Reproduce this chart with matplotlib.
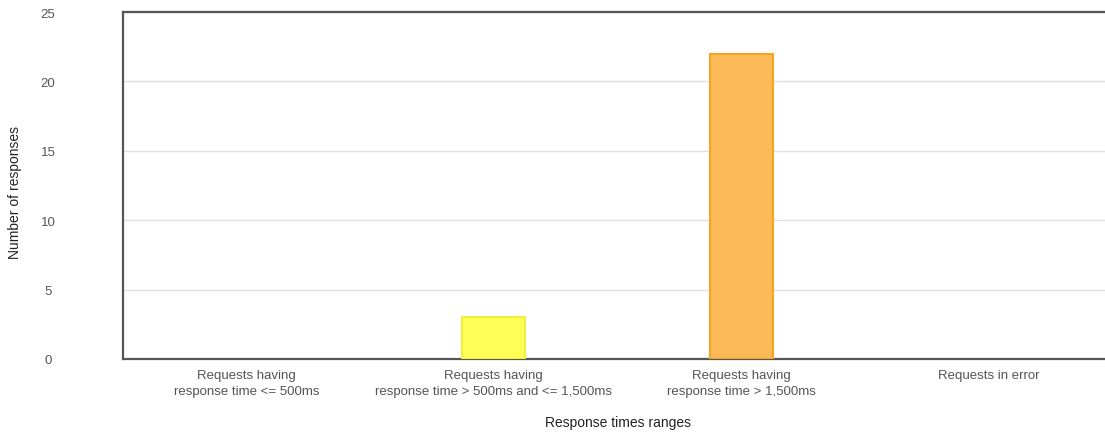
import matplotlib
matplotlib.use("Agg")
import matplotlib.pyplot as plt

CATEGORIES = ["Requests having\nresponse time <= 500ms",
              "Requests having\nresponse time > 500ms and <= 1,500ms",
              "Requests having\nresponse time > 1,500ms",
              "Requests in error"]
COUNTS = [0, 3, 22, 0]
FILLS = ["#ffff66", "#ffff55", "#fbb957", "#ff6666"]
EDGES = ["#eaea40", "#f0f03c", "#f5a51f", "#e04040"]

TXT = "#555555"
AX = "#555555"

plt.rcParams.update({"font.family": ["Liberation Sans", "DejaVu Sans"],
                     "text.color": TXT})

fig = plt.figure(figsize=(11.05, 4.35), dpi=100)
# axes run a little past the right edge of the image, like the original
ax = fig.add_axes([123 / 1105, 75 / 435, 989 / 1105, 347 / 435])

x = range(len(CATEGORIES))
edges = [e if c > 0 else "none" for e, c in zip(EDGES, COUNTS)]
ax.bar(x, COUNTS, width=0.255, color=FILLS, edgecolor=edges, linewidth=1.5,
       zorder=3)

ax.set_xlim(-0.5, 3.5)
ax.set_ylim(0, 25)
ax.set_yticks([0, 5, 10, 15, 20, 25])
ax.set_xticks(list(x))
ax.set_xticklabels(CATEGORIES, fontsize=9.5, color=TXT, linespacing=1.5)
ax.tick_params(axis="y", length=0, pad=54, labelsize=9.5, labelcolor=TXT)
ax.tick_params(axis="x", length=0, pad=7)
for lab in ax.get_yticklabels():
    lab.set_horizontalalignment("center")

ax.grid(axis="y", color="#e0e0e0", lw=1, zorder=0)
for s in ("left", "top", "bottom"):
    ax.spines[s].set_color(AX)
    ax.spines[s].set_linewidth(1.6)
ax.spines["right"].set_visible(False)

fig.text(15 / 1105, 1 - 193 / 435, "Number of responses", fontsize=10,
         color="#222222", ha="center", va="center", rotation=90)
fig.text(618 / 1105, 1 - 423 / 435, "Response times ranges", fontsize=10,
         color="#222222", ha="center", va="center")

fig.savefig("out.png", dpi=100, facecolor="white")
